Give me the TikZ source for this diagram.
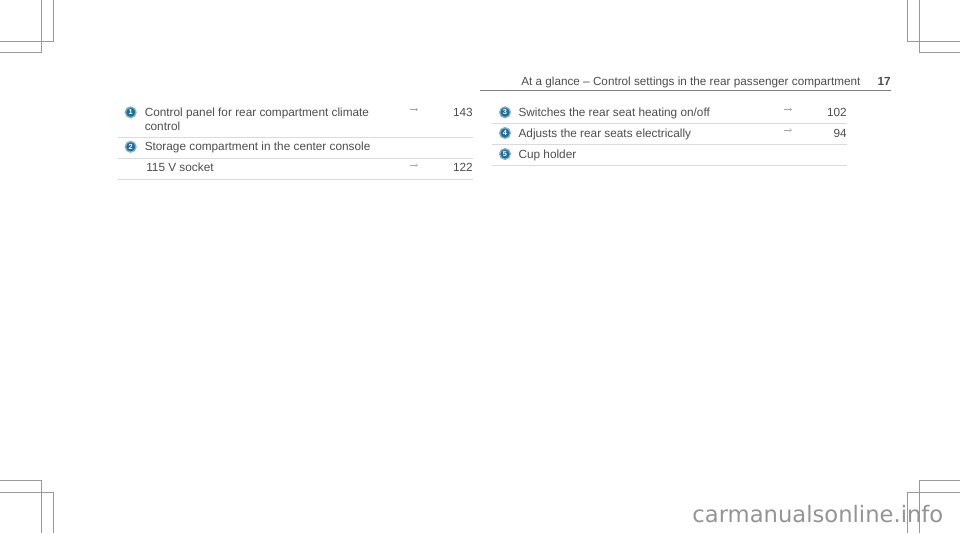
\documentclass[tikz,border=0pt]{standalone}
\usepackage{fontspec}
\setmainfont{Liberation Sans}
\newfontfamily\markfont{DejaVu Sans}
\usetikzlibrary{calc, arrows.meta}
\definecolor{BadgeBlue}{HTML}{1A6F9A}
\tikzset{
  body/.style={anchor=base west, inner sep=0pt, font=\fontsize{8.85pt}{11pt}\selectfont, text=black!70},
  pagenum/.style={anchor=base east, inner sep=0pt, font=\fontsize{8.85pt}{11pt}\selectfont, text=black!70},
  rowline/.style={draw=black!14, line width=0.5pt},
  crop/.style={draw=black!40, line width=0.6pt},
  badge/.style={circle, fill=BadgeBlue, draw=BadgeBlue!55, line width=1pt, minimum size=8pt, inner sep=0pt, text=white, font=\fontsize{5.5pt}{6pt}\selectfont\bfseries},
  refarrow/.style={draw=black!35, line width=0.3pt, -{Straight Barb[length=1.5pt,width=2.5pt]}}
}
\begin{document}
\begin{tikzpicture}[x=0.75pt, y=-0.75pt]
\useasboundingbox (0,0) rectangle (960,533);
% crop marks
\draw[crop] (0,52.3) -- (41,52.3) -- (41,0);
\draw[crop] (0,41) -- (53,41) -- (53,0);
\draw[crop] (960,52.3) -- (919.3,52.3) -- (919.3,0);
\draw[crop] (960,41) -- (907,41) -- (907,0);
\draw[crop] (0,480) -- (41,480) -- (41,533);
\draw[crop] (0,492) -- (53,492) -- (53,533);
\draw[crop] (960,480) -- (919.3,480) -- (919.3,533);
\draw[crop] (960,492) -- (907,492) -- (907,533);
% header
\node[body, font=\fontsize{8.8pt}{11pt}\selectfont] (title) at (521,85.7) {At a glance – Control settings in the rear passenger compartment};
\node[pagenum, font=\fontsize{8.8pt}{11pt}\selectfont\bfseries] (page) at (891,85.7) {17};
\draw[draw=black!50, line width=0.6pt] (480,90) -- (891,90);
% left column
\node[badge] (b1) at (130.7,112.3) {1};
\node[body] (t1) at (144.5,116) {Control panel for rear compartment climate};
\node[body] (t1b) at (144.5,130) {control};
\node[pagenum] (p1) at (473,116) {143};
\coordinate (a1s) at (410,109.5); \coordinate (a1e) at (418,109.5);
\draw[refarrow] (a1s) -- (a1e);
\draw[rowline] (118,137.3) -- (473,137.3);
\node[badge] (b2) at (130.7,146.8) {2};
\node[body] (t2) at (144.5,150.6) {Storage compartment in the center console};
\draw[rowline] (118,158.3) -- (473,158.3);
\node[body] (t2b) at (146,171.5) {115 V socket};
\node[pagenum] (p2) at (473,171.5) {122};
\coordinate (a2s) at (410,165); \coordinate (a2e) at (418,165);
\draw[refarrow] (a2s) -- (a2e);
\draw[rowline] (118,179) -- (473,179);
% right column
\node[badge] (b3) at (505,112.3) {3};
\node[body] (t3) at (518.3,116) {Switches the rear seat heating on/off};
\node[pagenum] (p3) at (847,116) {102};
\coordinate (a3s) at (784,109.5); \coordinate (a3e) at (792,109.5);
\draw[refarrow] (a3s) -- (a3e);
\draw[rowline] (492,123.5) -- (847,123.5);
\node[badge] (b4) at (505,133) {4};
\node[body] (t4) at (518.3,137) {Adjusts the rear seats electrically};
\node[pagenum] (p4) at (847,137) {94};
\coordinate (a4s) at (784,130); \coordinate (a4e) at (792,130);
\draw[refarrow] (a4s) -- (a4e);
\draw[rowline] (492,144.3) -- (847,144.3);
\node[badge] (b5) at (505,154) {5};
\node[body] (t5) at (518.3,158) {Cup holder};
\draw[rowline] (492,165.3) -- (847,165.3);
% watermark
\node[anchor=base east, inner sep=0pt, font=\markfont\fontsize{17pt}{20pt}\selectfont, text=black!42] (mark) at (943.5,522.3) {carmanualsonline.info};
\end{tikzpicture}
\end{document}
